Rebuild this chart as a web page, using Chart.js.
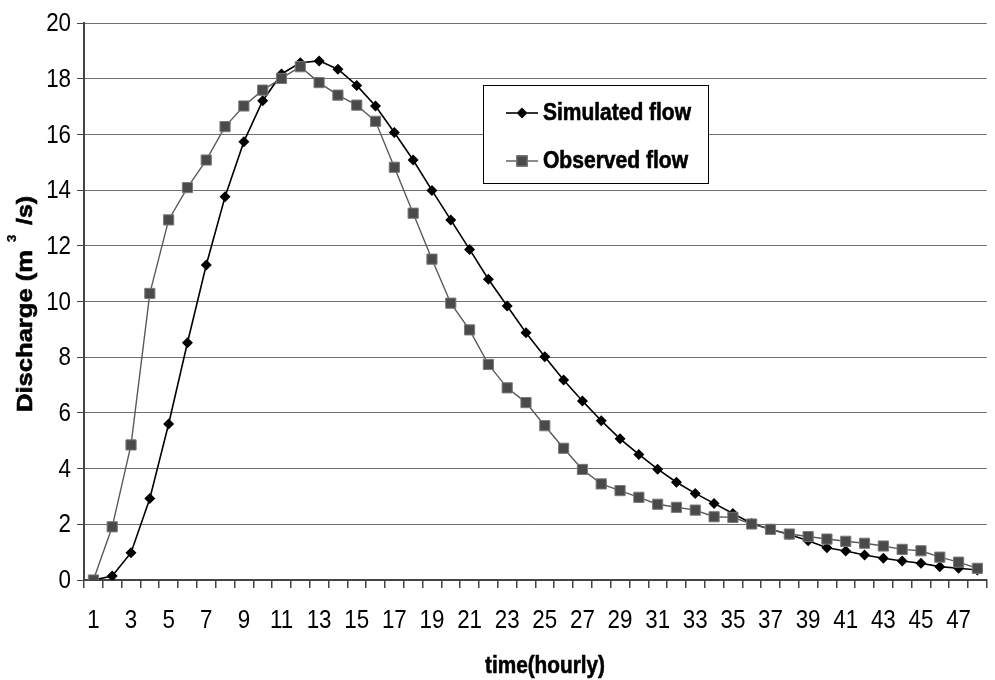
<!DOCTYPE html>
<html>
<head>
<meta charset="utf-8">
<script src="https://cdn.jsdelivr.net/npm/chart.js@4/dist/chart.umd.min.js"></script>
<style>
  html, body { margin: 0; padding: 0; background: #fff; }
  #wrap { width: 995px; height: 680px; }
</style>
</head>
<body>
<div id="wrap"><canvas id="myChart" width="995" height="680"></canvas></div>
<script>
// hours on the x axis
const hours = ['1','2','3','4','5','6','7','8','9','10','11','12','13','14','15','16',
  '17','18','19','20','21','22','23','24','25','26','27','28','29','30','31','32',
  '33','34','35','36','37','38','39','40','41','42','43','44','45','46','47','48'];

// discharge, m3/s
const simulated = [0, 0.14, 0.98, 2.93, 5.6, 8.52, 11.31, 13.76, 15.74, 17.21, 18.17, 18.57,
  18.64, 18.34, 17.76, 17.02, 16.07, 15.08, 13.99, 12.93, 11.87, 10.8, 9.84, 8.88,
  8.02, 7.18, 6.43, 5.72, 5.07, 4.51, 3.98, 3.51, 3.11, 2.75, 2.39, 2.03,
  1.82, 1.63, 1.41, 1.16, 1.04, 0.9, 0.78, 0.68, 0.6, 0.48, 0.42, 0.36];
const observed = [0, 1.91, 4.85, 10.29, 12.93, 14.09, 15.08, 16.28, 17.02, 17.59, 18.01, 18.43,
  17.86, 17.41, 17.05, 16.47, 14.82, 13.17, 11.52, 9.94, 8.98, 7.74, 6.9, 6.37,
  5.54, 4.73, 3.97, 3.45, 3.21, 2.97, 2.72, 2.61, 2.51, 2.27, 2.25, 2.01,
  1.82, 1.65, 1.56, 1.47, 1.39, 1.32, 1.22, 1.10, 1.05, 0.82, 0.64, 0.42];

const yTicks = [0, 2, 4, 6, 8, 10, 12, 14, 16, 18, 20];

const seriesNames = ['Simulated flow', 'Observed flow'];
const xTitle = 'time(hourly)';

const SANS = "'Liberation Sans', Arial, sans-serif";

// text squeezed sideways, the original looks like a narrow Arial
function squash(ctx, text, x, y, sx, align, heavy) {
  ctx.save();
  ctx.translate(x, y);
  ctx.scale(sx, 1);
  ctx.textAlign = align;
  ctx.fillText(text, 0, 0);
  if (heavy) {
    ctx.lineWidth = heavy;
    ctx.strokeStyle = ctx.fillStyle;
    ctx.strokeText(text, 0, 0);
  }
  ctx.restore();
}
// squeeze to a given width, left aligned
function fitLeft(ctx, text, x, y, w, heavy) {
  const m = ctx.measureText(text).width;
  squash(ctx, text, x, y, w / m, 'left', heavy);
}

// tick labels drawn from the scales
const tickLabelPlugin = {
  id: 'tickLabels',
  afterDraw(chart) {
    const { ctx } = chart;
    const xs = chart.scales.x, ys = chart.scales.y;
    ctx.save();
    ctx.fillStyle = '#000';
    ctx.font = '26px ' + SANS;
    ctx.textBaseline = 'middle';
    ys.ticks.forEach((t, i) => {
      squash(ctx, String(t.value), ys.right - 13, ys.getPixelForTick(i) + 1, 0.86, 'right');
    });
    xs.ticks.forEach((t, i) => {
      if (i % 2) return;
      squash(ctx, xs.getLabelForValue(t.value), xs.getPixelForTick(i), xs.top + 41, 0.86, 'center');
    });
    ctx.restore();
  }
};

// axis titles, with the odd raised "3" like the original
const titlePlugin = {
  id: 'axisTitles',
  afterDraw(chart) {
    const ctx = chart.ctx;
    ctx.save();
    ctx.translate(32, 412);
    ctx.rotate(-Math.PI / 2);
    ctx.fillStyle = '#000';
    ctx.textBaseline = 'alphabetic';
    ctx.font = 'bold 22px ' + SANS;
    fitLeft(ctx, 'Discharge (m', 0, 0, 162, 0.6);
    fitLeft(ctx, '/s)', 187, 0, 29, 0.6);
    ctx.font = 'bold 12px ' + SANS;
    squash(ctx, '3', 170, -16, 1.1, 'left', 0.3);
    ctx.restore();

    ctx.save();
    ctx.font = 'bold 24px ' + SANS;
    ctx.textBaseline = 'alphabetic';
    ctx.fillStyle = '#000';
    fitLeft(ctx, xTitle, 545 - 60, 673, 120, 0.6);
    ctx.restore();
  }
};

// boxed legend inside the plot
const legendPlugin = {
  id: 'boxLegend',
  afterDraw(chart) {
    const ctx = chart.ctx;
    ctx.save();
    ctx.fillStyle = '#fff';
    ctx.strokeStyle = '#000';
    ctx.lineWidth = 1;
    ctx.fillRect(483.5, 85.5, 225, 98);
    ctx.strokeRect(483.5, 85.5, 225, 98);
    const rows = [113, 161];
    const widths = [148, 145];
    chart.data.datasets.forEach((ds, i) => {
      const y = rows[i];
      ctx.strokeStyle = ds.borderColor;
      ctx.lineWidth = ds.borderWidth;
      ctx.beginPath();
      ctx.moveTo(506, y);
      ctx.lineTo(538, y);
      ctx.stroke();
      Chart.helpers.drawPoint(ctx, {
        pointStyle: ds.pointStyle,
        radius: ds.pointRadius,
        borderWidth: ds.pointBorderWidth,
        rotation: 0
      }, 522, y);
      ctx.fillStyle = ds.pointBackgroundColor;
      ctx.strokeStyle = ds.pointBorderColor;
      ctx.lineWidth = ds.pointBorderWidth;
      ctx.fill();
      if (ds.pointBorderWidth) ctx.stroke();
      ctx.fillStyle = '#000';
      ctx.font = 'bold 23px ' + SANS;
      ctx.textBaseline = 'middle';
      fitLeft(ctx, ds.label, 543, y + 1, widths[i], 0.6);
    });
    ctx.restore();
  }
};

const ctx = document.getElementById('myChart');
new Chart(ctx, {
  type: 'line',
  data: {
    labels: hours,
    datasets: [
      {
        label: seriesNames[0],
        data: simulated,
        borderColor: '#000',
        borderWidth: 1.6,
        pointStyle: 'rectRot',
        pointRadius: 5.5,
        pointBackgroundColor: '#000',
        pointBorderColor: '#000',
        pointBorderWidth: 0,
        tension: 0,
        order: 2
      },
      {
        label: seriesNames[1],
        data: observed,
        borderColor: '#5a5a5a',
        borderWidth: 1.4,
        pointStyle: 'rect',
        pointRadius: 7.2,
        pointBackgroundColor: '#4a4a4a',
        pointBorderColor: '#7a7a7a',
        pointBorderWidth: 1,
        tension: 0,
        order: 1
      }
    ]
  },
  options: {
    responsive: false,
    animation: false,
    events: [],
    layout: { padding: { left: 0, right: -10, top: 23, bottom: 0 } },
    plugins: {
      legend: { display: false },
      tooltip: { enabled: false }
    },
    scales: {
      x: {
        type: 'category',
        offset: true,
        grid: {
          offset: true,
          drawOnChartArea: false,
          drawTicks: true,
          tickLength: 8,
          tickColor: '#444',
          lineWidth: 1.5
        },
        border: { color: '#444', width: 2 },
        ticks: {
          autoSkip: false,
          maxRotation: 0,
          color: 'rgba(0,0,0,0)',
          font: { family: SANS, size: 22 }
        },
        afterFit: (s) => { s.height = 100; }
      },
      y: {
        min: yTicks[0],
        max: yTicks[yTicks.length - 1],
        grid: {
          color: '#6f6f6f',
          lineWidth: 1,
          drawTicks: true,
          tickLength: 7,
          tickColor: '#444'
        },
        border: { color: '#444', width: 2 },
        ticks: {
          stepSize: yTicks[1] - yTicks[0],
          color: 'rgba(0,0,0,0)',
          font: { family: SANS, size: 22 }
        },
        afterFit: (s) => { s.width = 84; }
      }
    }
  },
  plugins: [tickLabelPlugin, titlePlugin, legendPlugin]
});
</script>
</body>
</html>
